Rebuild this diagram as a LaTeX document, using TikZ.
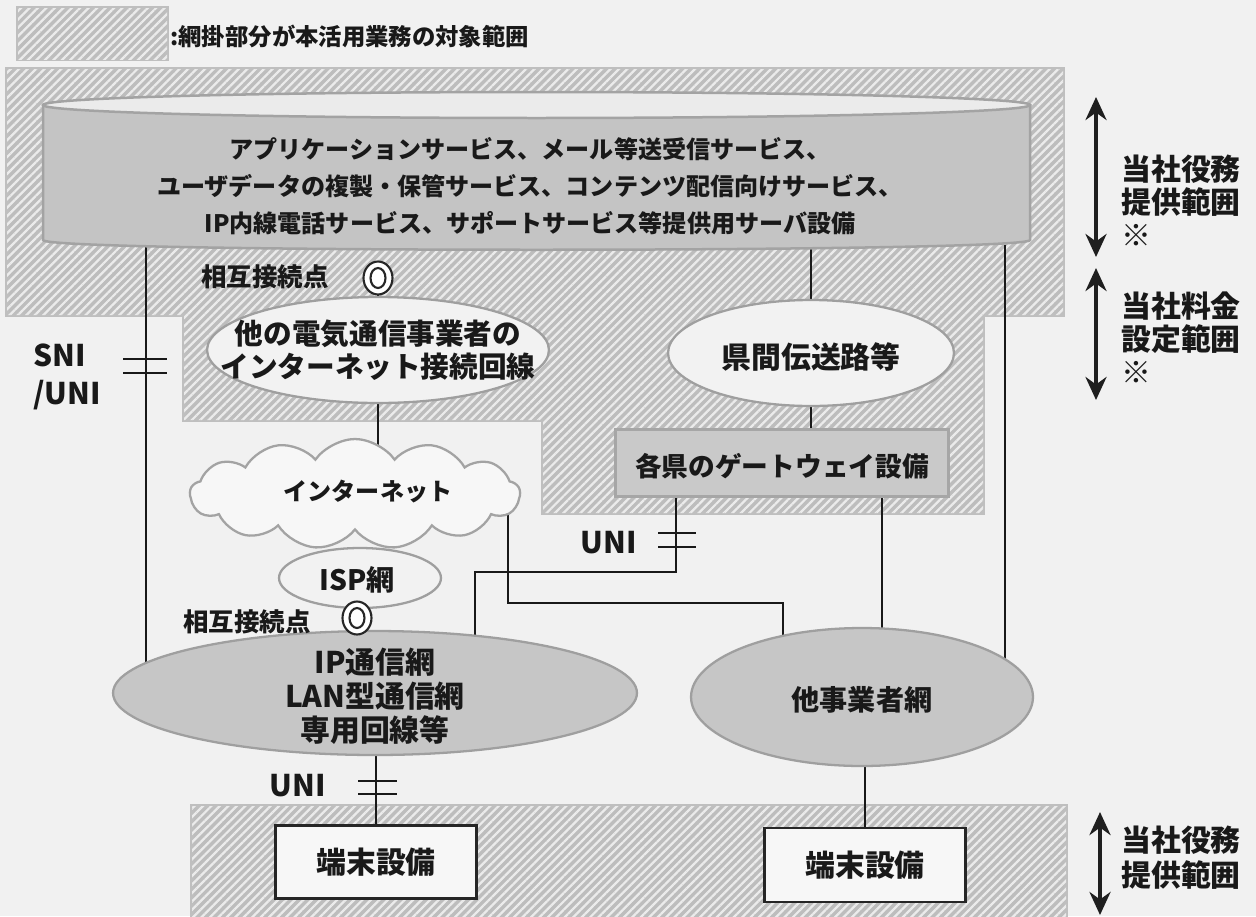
\documentclass[tikz,border=0pt]{standalone}
\usepackage{fontspec}
\setmainfont{Noto Sans CJK JP}
\usetikzlibrary{shapes.geometric,shapes.symbols,arrows.meta,patterns.meta}
\pgfdeclarelayer{back}
\pgfdeclarelayer{lines}
\pgfsetlayers{back,lines,main}
\newcommand{\fz}[2]{\fontsize{#1pt}{#2pt}\selectfont}
\begin{document}
\begin{tikzpicture}[x=0.02cm,y=-0.02cm,
  txt/.style={font=\bfseries, text=black!90, inner sep=0, align=center},
  hatchreg/.style={fill=gray!52, postaction={pattern={Lines[angle=45,distance=3.4pt,line width=1.3pt]}, pattern color=gray!16}, draw=gray!50, line width=0.07cm},
  lightell/.style={ellipse, draw=gray!75, line width=1.3pt, fill=gray!10, inner sep=0},
  darkell/.style={ellipse, draw=gray!75, line width=1.3pt, fill=gray!45, inner sep=0},
  gwbox/.style={rectangle, draw=gray!70, line width=0.06cm, fill=gray!42, inner sep=0},
  termbox/.style={rectangle, draw=black!85, line width=1.3pt, fill=white!94!gray, inner sep=0},
  ring/.style={ellipse, draw=black!85, line width=1.2pt, fill=white, minimum width=0.58cm, minimum height=0.66cm, inner sep=0,
    path picture={\draw[line width=1.2pt, black!85] (path picture bounding box.center) ellipse [x radius=0.15cm, y radius=0.2cm];}},
  conn/.style={line width=1.1pt, black!90},
  mk/.style={line width=1pt, black!90},
  bigarrow/.style={line width=0.08cm, black!88, {Stealth[length=0.46cm,width=0.42cm]}-{Stealth[length=0.46cm,width=0.42cm]}}
]
\useasboundingbox (0,0) rectangle (1256,916);
\begin{pgfonlayer}{back}
  \fill[gray!11] (0,0) rectangle (1256,916);
  % legend swatch
  \path[hatchreg] (18,8) rectangle (167,59);
  % upper hatched region
  \path[hatchreg] (7,69) -- (1063,69) -- (1063,315) -- (983,315) -- (983,513) -- (543,513)
     -- (543,420) -- (184,420) -- (184,315) -- (7,315) -- cycle;
  % lower hatched band
  \path[hatchreg] (192,806) -- (1066,806) -- (1066,930) -- (192,930) -- cycle;
\end{pgfonlayer}

% legend text
\node[txt, anchor=west, font=\bfseries\fz{13.3}{16}] (leg) at (170,36) {:網掛部分が本活用業務の対象範囲};

% server cylinder
\path[fill=gray!46, draw=gray!72, line width=0.05cm]
  (43,105) -- (43,240) .. controls (43,253) and (1030,253) .. (1030,240) -- (1030,105) -- cycle;
\path[fill=gray!16, draw=gray!72, line width=0.05cm] (536.5,105) ellipse [x radius=493.5, y radius=13];
\node[txt, font=\bfseries\fz{13.7}{21}] (srv) at (530,186)
  {アプリケーションサービス、メール等送受信サービス、\\
   ユーザデータの複製・保管サービス、コンテンツ配信向けサービス、\\
   IP内線電話サービス、サポートサービス等提供用サーバ設備};
\coordinate (c1) at (146,245);
\coordinate (c2) at (811,245);
\coordinate (c3) at (1005,245);

% upper part
\node[txt, font=\bfseries\fz{14.5}{16}] (sou1) at (265,277) {相互接続点};
\node[lightell, minimum width=6.84cm, minimum height=2.12cm] (oth1) at (378,350) {};
\node[txt, font=\bfseries\fz{16.3}{18.8}] (oth1t) at (oth1) {他の電気通信事業者の\\インターネット接続回線};
\node[ring] (ring1) at (378,278) {};

\node[lightell, minimum width=5.72cm, minimum height=2.12cm] (ken) at (811,353) {};
\node[txt, font=\bfseries\fz{17}{19}] (kent) at (811,357) {県間伝送路等};
\node[gwbox, minimum width=6.68cm, minimum height=1.34cm] (gw) at (782,463) {};
\node[txt, font=\bfseries\fz{15.2}{17}] (gwt) at (782,466) {各県のゲートウェイ設備};

% internet side
\node[lightell, minimum width=3.24cm, minimum height=1.2cm] (isp) at (360,578) {};
\node[txt, font=\bfseries\fz{16}{18}] (ispt) at (357,580) {ISP網};
\node[cloud, cloud puffs=13, cloud puff arc=110, cloud ignores aspect, draw=gray!72, line width=1.3pt, fill=gray!6,
      minimum width=6.6cm, minimum height=2.2cm, inner sep=0] (cloud) at (355,494) {};
\node[txt, font=\bfseries\fz{13.7}{16}] (cloudt) at (368,492) {インターネット};

\node[darkell, minimum width=10.48cm, minimum height=2.48cm] (ip) at (375,693) {};
\node[txt, font=\bfseries\fz{17}{19.4}] (ipt) at (375,696) {IP通信網\\LAN型通信網\\専用回線等};
\node[ring] (ring2) at (357,618) {};
\node[txt, font=\bfseries\fz{14.5}{16}] (sou2) at (247,622) {相互接続点};

\node[darkell, minimum width=6.84cm, minimum height=2.76cm] (oth) at (862,697) {};
\node[txt, font=\bfseries\fz{16}{18}] (otht) at (862,700) {他事業者網};

% terminals
\node[termbox, minimum width=4.02cm, minimum height=1.46cm] (box1) at (376,862) {};
\node[txt, font=\bfseries\fz{17}{19}] (box1t) at (box1) {端末設備};
\node[termbox, minimum width=4.02cm, minimum height=1.48cm] (box2) at (865,865) {};
\node[txt, font=\bfseries\fz{17}{19}] (box2t) at (box2) {端末設備};

% interface labels
\node[txt, align=left, anchor=west, font=\bfseries\fz{17}{22}] (sni) at (33,377) {SNI\\/UNI};
\node[txt, font=\bfseries\fz{17}{19}] (uni1) at (609,543) {UNI};
\node[txt, font=\bfseries\fz{17}{19}] (uni2) at (298,786) {UNI};

% connectors
\coordinate (j1) at (508,603);
\coordinate (j2) at (783,603);
\coordinate (k1) at (676,572);
\coordinate (k2) at (475,572);
\coordinate (g2) at (882,497);
\begin{pgfonlayer}{lines}
  \draw[conn] (c1) -- (c1 |- ip.center);
  \draw[conn] (c2) -- (ken.center);
  \draw[conn] (c3) -- (c3 |- oth.center);
  \draw[conn] (ring1.center) -- (oth1.center);
  \draw[conn] (oth1.center) -- (oth1.center |- cloud.center);
  \draw[conn] (ken.center) -- (ken.center |- gw.center);
  \draw[conn] (k1 |- gw.center) -- (k1) -- (k2) -- (k2 |- ip.center);
  \draw[conn] (g2 |- gw.center) -- (g2 |- oth.center);
  \draw[conn] (j1 |- cloud.center) -- (j1) -- (j2) -- (j2 |- oth.center);
  \draw[conn] (box1.center |- ip.center) -- (box1.center);
  \draw[conn] (box2.center |- oth.center) -- (box2.center);
\end{pgfonlayer}

% interface marks
\draw[mk] (123,359) -- (167,359) (123,373) -- (167,373);
\draw[mk] (658,533) -- (696,533) (658,547) -- (696,547);
\draw[mk] (358,781) -- (397,781) (358,794) -- (397,794);

% range arrows
\coordinate (a1t) at (1096,97);
\coordinate (a1b) at (1096,257);
\coordinate (a2t) at (1096,268);
\coordinate (a2b) at (1096,400);
\coordinate (a3t) at (1100,812);
\coordinate (a3b) at (1100,915);
\draw[bigarrow] (a1t) -- (a1b);
\draw[bigarrow] (a2t) -- (a2b);
\draw[bigarrow] (a3t) -- (a3b);
\node[txt, align=left, anchor=west, font=\bfseries\fz{17}{18.8}] (r1) at (1121,201) {当社役務\\提供範囲\\※};
\node[txt, align=left, anchor=west, font=\bfseries\fz{17}{18.8}] (r2) at (1121,338) {当社料金\\設定範囲\\※};
\node[txt, align=left, anchor=west, font=\bfseries\fz{17}{20}] (r3) at (1121,858) {当社役務\\提供範囲};
\end{tikzpicture}
\end{document}
